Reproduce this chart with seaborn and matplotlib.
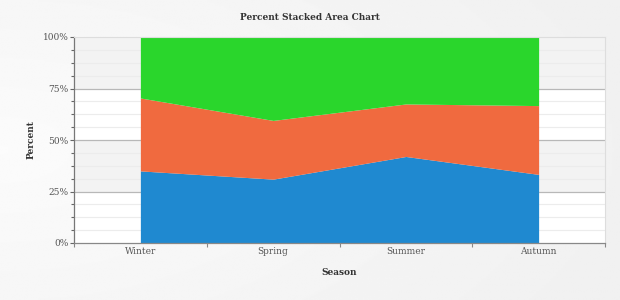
import numpy as np
import pandas as pd
import matplotlib
matplotlib.use("Agg")
import matplotlib.pyplot as plt
import seaborn as sns
from matplotlib.ticker import FixedLocator, NullFormatter

seasons = ["Winter", "Spring", "Summer", "Autumn"]
series_a = [35.0, 31.0, 42.0, 33.3]
series_b = [35.4, 28.5, 25.5, 33.4]
series_c = [29.6, 40.5, 32.5, 33.3]
y_ticks = [0, 25, 50, 75, 100]
y_labels = ["0%", "25%", "50%", "75%", "100%"]

df = pd.DataFrame({"Season": seasons, "A": series_a, "B": series_b, "C": series_c})
tot = df[["A", "B", "C"]].sum(axis=1)
for c in ["A", "B", "C"]:
    df[c] = df[c] / tot * 100

sns.set_style("white")
plt.rcParams["font.family"] = ["DejaVu Serif"]

fig = plt.figure(figsize=(6.2, 3.0), dpi=100)
fig.patch.set_facecolor("#f4f4f4")
# background gradient
bg = fig.add_axes([0, 0, 1, 1], zorder=-10)
grad = np.linspace(0, 1, 256)
gx, gy = np.meshgrid(grad, grad)
vals = 0.985 - 0.04 * np.clip(np.sqrt((gx - 0.0) ** 2 + (gy - 0.5) ** 2), 0, 1)
bg.imshow(vals, cmap="gray", vmin=0, vmax=1, aspect="auto", extent=[0, 1, 0, 1])
bg.axis("off")

ax = fig.add_axes([74 / 620, 1 - 243 / 300, (605 - 74) / 620, (243 - 37) / 300])
ax.set_facecolor("white")
x = np.arange(len(seasons))
ax.set_xlim(-0.5, len(seasons) - 0.5)
ax.set_ylim(0, 100)

for lo, hi, col in [(0, 25, "white"), (25, 50, "#f3f3f3"), (50, 75, "white"), (75, 100, "#f3f3f3")]:
    ax.axhspan(lo, hi, color=col, zorder=0, lw=0)
for m in np.arange(0, 100.01, 6.25):
    if m % 25 != 0:
        ax.axhline(m, color="#ececec", lw=0.8, zorder=1)
for m in [25, 50, 75]:
    ax.axhline(m, color="#b8b8b8", lw=0.9, zorder=1)

colors = ["#1f89d0", "#f06a3f", "#2ad62c"]
ax.stackplot(x, df["A"], df["B"], df["C"], colors=colors, zorder=2, lw=0)

ax.xaxis.set_major_locator(FixedLocator(np.arange(-0.5, len(seasons), 1.0)))
ax.xaxis.set_major_formatter(NullFormatter())
ax.xaxis.set_minor_locator(FixedLocator(x))
ax.set_xticklabels(seasons, minor=True)
ax.tick_params(axis="x", which="major", length=3, color="#888888", width=0.8, direction="out", bottom=True)
ax.tick_params(axis="x", which="minor", length=0, labelsize=6.5, labelcolor="#555555", pad=3)

ax.set_yticks(y_ticks)
ax.set_yticklabels(y_labels)
ax.yaxis.set_minor_locator(FixedLocator([m for m in np.arange(0, 100.01, 6.25) if m % 25 != 0]))
ax.tick_params(axis="y", which="major", length=3, color="#666666", width=0.8, labelsize=6.5, labelcolor="#555555", pad=1, left=True)
ax.tick_params(axis="y", which="minor", length=2, color="#666666", width=0.8, left=True)

for s in ["top", "right"]:
    ax.spines[s].set_color("#dddddd")
    ax.spines[s].set_linewidth(0.8)
ax.spines["left"].set_color("#777777")
ax.spines["bottom"].set_color("#888888")
ax.spines["left"].set_linewidth(0.9)
ax.spines["bottom"].set_linewidth(0.9)

ax.set_xlabel("Season", fontsize=6.5, fontweight="bold", color="#333333", labelpad=8.5)
ax.set_ylabel("Percent", fontsize=6.5, fontweight="bold", color="#333333", labelpad=5)
fig.text(0.5, 1 - 18 / 300, "Percent Stacked Area Chart", ha="center", va="center",
         fontsize=6.5, fontweight="bold", color="#333333")

fig.savefig("out.png", dpi=100, facecolor=fig.get_facecolor())
